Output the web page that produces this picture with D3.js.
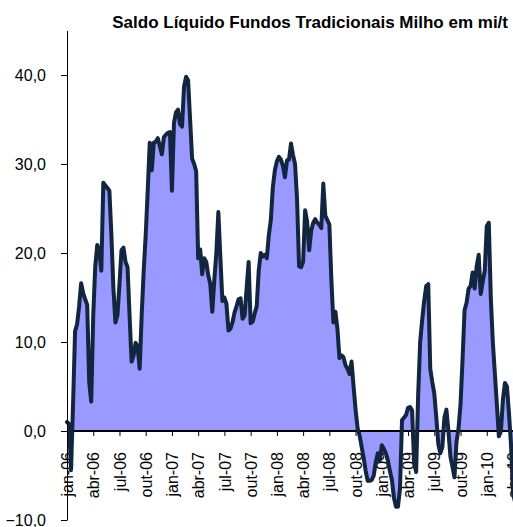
<!DOCTYPE html>
<html>
<head>
<meta charset="utf-8">
<script src="https://cdn.jsdelivr.net/npm/d3@7"></script>
<style>
  html, body { margin: 0; padding: 0; background: #fff; }
  svg { display: block; }
  text { font-family: "Liberation Sans", Arial, sans-serif; }
</style>
</head>
<body>
<svg id="chart" width="513" height="527"></svg>
<script>
// ---- data (weekly, starting first week of jan-06) ----
const title = "Saldo Líquido Fundos Tradicionais Milho em mi/t";
const quarterLabels = ["jan-06","abr-06","jul-06","out-06","jan-07","abr-07","jul-07","out-07",
  "jan-08","abr-08","jul-08","out-08","jan-09","abr-09","jul-09","out-09","jan-10","abr-10"];
const weeksPerQuarter = 13;
const yTicks = [-10, 0, 10, 20, 30, 40];
const saldo = [
  1.0, 0.8, -4.4, 3, 11.2, 12.0, 14, 16.6, 15.5, 14.8,
  14.2, 5.5, 3.3, 13, 18.5, 20.9, 20.2, 18.0, 27.9, 27.6,
  27.3, 27.0, 22, 16, 12.2, 13, 16.5, 20.3, 20.6, 19.0,
  18.4, 13, 7.8, 8.5, 9.9, 9.5, 7.0, 13, 18, 22,
  27, 32.4, 29.3, 32.4, 32.5, 32.9, 32.0, 31.1, 33.0, 33.3,
  33.5, 33.6, 27.0, 34.6, 35.8, 36.1, 34.5, 34.2, 38.7, 39.8,
  39.4, 35, 30.6, 30.0, 29.2, 19.4, 20.4, 17.6, 19.4, 19.0,
  17.5, 16.5, 13.4, 17, 20, 24.6, 19.5, 14.6, 15.0, 14.3,
  11.3, 11.5, 12.2, 13.3, 14.0, 14.8, 14.9, 12.6, 13.0, 16,
  19.0, 12.1, 12.3, 13.2, 14, 18, 20.0, 19.6, 19.8, 19.4,
  22, 23.7, 27.4, 29.3, 30.3, 30.8, 30.5, 29.8, 28.5, 30.4,
  30.5, 32.3, 31.0, 30.0, 26, 18.5, 18.4, 19, 24.8, 23.5,
  20.3, 22.5, 23.4, 23.8, 23.4, 23.2, 22.8, 27.8, 24.2, 23.7,
  23.2, 17, 12.2, 13.4, 11.5, 8.2, 8.5, 8.3, 7.4, 7.0,
  6.4, 7.8, 5.0, 2.4, 0.3, -0.5, -1.8, -3.0, -4.5, -5.6,
  -5.6, -5.5, -5.0, -3.5, -2.5, -3.3, -1.6, -2.0, -2.5, -3.3,
  -4.5, -5.5, -7.5, -8.5, -8.5, -6.5, 1.2, 1.5, 1.8, 2.6,
  2.7, 2.3, -3.6, -4.6, 4.0, 10, 12.5, 14.6, 16.3, 16.5,
  7, 5.5, 4.2, 1.5, -1.5, -2.5, -1.8, 1.5, 2.4, 0,
  -2.9, -4, -5.2, -1.2, 0.3, 3, 8, 13.6, 14.4, 16,
  16.3, 17.8, 16.0, 18.5, 19.8, 15.4, 16.8, 18, 23, 23.4,
  15, 10, 6.5, 3, -0.6, 0.0, 3.5, 5.4, 5.0, 2,
  -1.5, -7.0, -8.0
];

// ---- layout ----
const svg = d3.select("#chart");
const lastTick = (quarterLabels.length - 1) * weeksPerQuarter;
const x = d3.scaleLinear().domain([0, lastTick]).range([67, 513]);
const y = d3.scaleLinear().domain([-10, 45]).range([520, 30.5]);
const ptBR = d3.formatLocale({decimal: ",", thousands: ".", grouping: [3], currency: ["R$", ""]});
const fmt = ptBR.format(".1f");

// x axis labels (drawn first so the series overlaps them)
const xAxis = d3.axisBottom(x)
  .tickValues(quarterLabels.map((_, i) => i * weeksPerQuarter))
  .tickFormat((d, i) => quarterLabels[i])
  .tickSize(5).tickSizeOuter(0);
const gx = svg.append("g").attr("transform", `translate(0,${y(0)})`).call(xAxis);
gx.select(".domain").remove();
gx.selectAll(".tick line").attr("stroke", "#000");
gx.selectAll(".tick text")
  .attr("transform", "rotate(-90)")
  .attr("text-anchor", "end")
  .attr("x", -21).attr("y", 0).attr("dy", "0.35em")
  .attr("font-size", 16).attr("fill", "#000")
  .style("font-family", '"Liberation Sans", Arial, sans-serif');

// area
svg.append("path")
  .datum(saldo)
  .attr("fill", "#9999ff")
  .attr("d", d3.area().x((d, i) => x(i)).y0(y(0)).y1(d => y(d)));

// zero line
svg.append("line")
  .attr("x1", x(0)).attr("x2", 513)
  .attr("y1", y(0)).attr("y2", y(0))
  .attr("stroke", "#000").attr("stroke-width", 2.2);

// series line
svg.append("path")
  .datum(saldo)
  .attr("fill", "none")
  .attr("stroke", "#12263f")
  .attr("stroke-width", 4)
  .attr("stroke-linejoin", "round")
  .attr("stroke-linecap", "round")
  .attr("d", d3.line().x((d, i) => x(i)).y(d => y(d)));

// y axis
const yAxis = d3.axisLeft(y).tickValues(yTicks).tickFormat(fmt)
  .tickSize(6).tickSizeOuter(0).tickPadding(15);
const gy = svg.append("g").attr("transform", `translate(${x(0)},0)`).call(yAxis);
gy.select(".domain").attr("stroke", "#000").attr("stroke-width", 1);
gy.selectAll(".tick line").attr("stroke", "#000");
gy.selectAll(".tick text")
  .attr("font-size", 16).attr("fill", "#000")
  .style("font-family", '"Liberation Sans", Arial, sans-serif');

// title
svg.append("text")
  .attr("x", 508).attr("y", 28)
  .attr("text-anchor", "end")
  .attr("font-size", 17).attr("font-weight", "bold")
  .attr("fill", "#000")
  .text(title);
</script>
</body>
</html>
